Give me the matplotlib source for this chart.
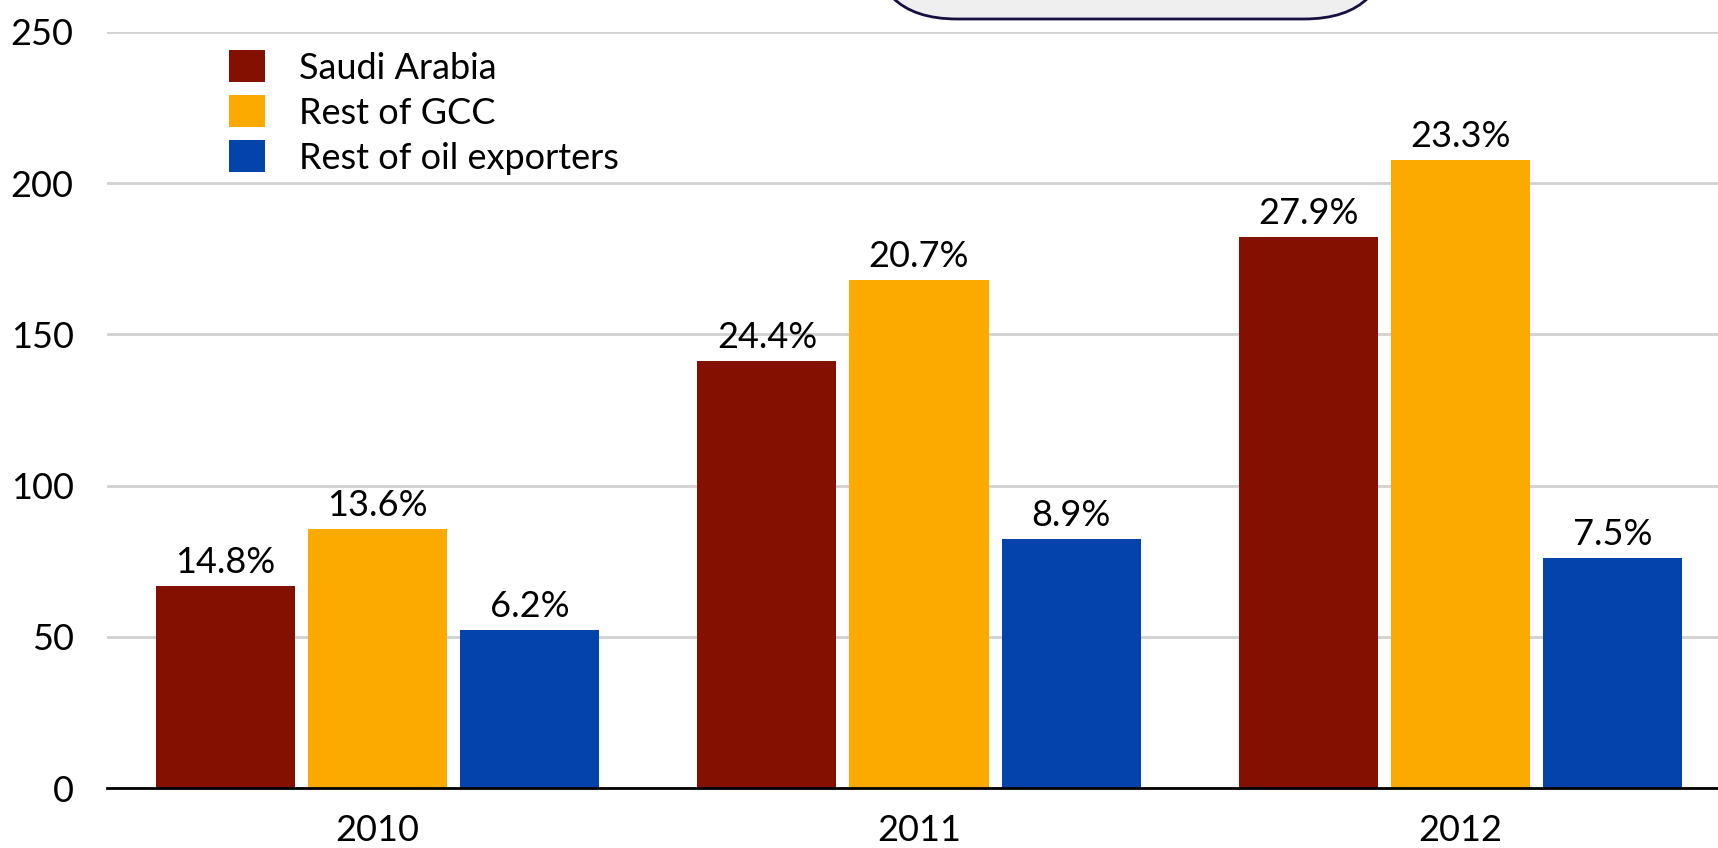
import numpy as np
import matplotlib.pyplot as plt
from matplotlib.patches import FancyBboxPatch

years = ["2010", "2011", "2012"]
series = ["Saudi Arabia", "Rest of GCC", "Rest of oil exporters"]
saudi = [66.7, 141.3, 182.2]
gcc = [85.5, 167.8, 207.6]
rest = [52.2, 82.2, 76.1]
saudi_pct = ["14.8%", "24.4%", "27.9%"]
gcc_pct = ["13.6%", "20.7%", "23.3%"]
rest_pct = ["6.2%", "8.9%", "7.5%"]
colors = ["#831000", "#fdaa00", "#0343ab"]

plt.rcParams['font.family'] = ['Lato', 'DejaVu Sans']

fig = plt.figure(figsize=(17.18, 8.48), dpi=100)
# axes spans x -0.5..2.5, right part runs off the figure edge
ax = fig.add_axes([107 / 1718, 60 / 848, 1624 / 1718, (788 - 31.8) / 848])

x = np.arange(len(years))
width = 0.257
step = 0.281
all_vals = [saudi, gcc, rest]
all_pct = [saudi_pct, gcc_pct, rest_pct]
for i in range(3):
    pos = x + (i - 1) * step
    bars = ax.bar(pos, all_vals[i], width, color=colors[i], label=series[i], zorder=3)
    for b, lab in zip(bars, all_pct[i]):
        ax.annotate(lab, (b.get_x() + b.get_width() / 2, b.get_height()),
                    xytext=(0, 5), textcoords="offset points",
                    ha="center", va="bottom", fontsize=26)

ax.set_xlim(-0.5, 2.5)
ax.set_ylim(0, 250)
ax.set_yticks([0, 50, 100, 150, 200, 250])
ax.set_xticks(x)
ax.set_xticklabels(years)
ax.tick_params(axis="both", length=0, labelsize=26)
ax.tick_params(axis="y", pad=24)
ax.tick_params(axis="x", pad=19)
ax.yaxis.grid(True, color="#d0d0d0", linewidth=2, zorder=0)
for s in ["top", "right", "left"]:
    ax.spines[s].set_visible(False)
ax.spines["bottom"].set_linewidth(2)
ax.spines["bottom"].set_zorder(4)

ax.legend(loc="upper left", bbox_to_anchor=(0.066, 0.995), frameon=False,
          fontsize=26, handlelength=1.0, handleheight=1.0, handletextpad=0.95,
          labelspacing=0.29, borderaxespad=0)

# rounded box cut off at top of the picture
box = FancyBboxPatch((871 / 1718, 1 - 19 / 848), (1390 - 871) / 1718, 0.2,
                     boxstyle="round,pad=0,rounding_size=0.05",
                     transform=fig.transFigure, facecolor="#efefef",
                     edgecolor="#1a1040", linewidth=2, mutation_aspect=1718 / 848)
fig.patches.append(box)

fig.savefig("out.png", dpi=100)
